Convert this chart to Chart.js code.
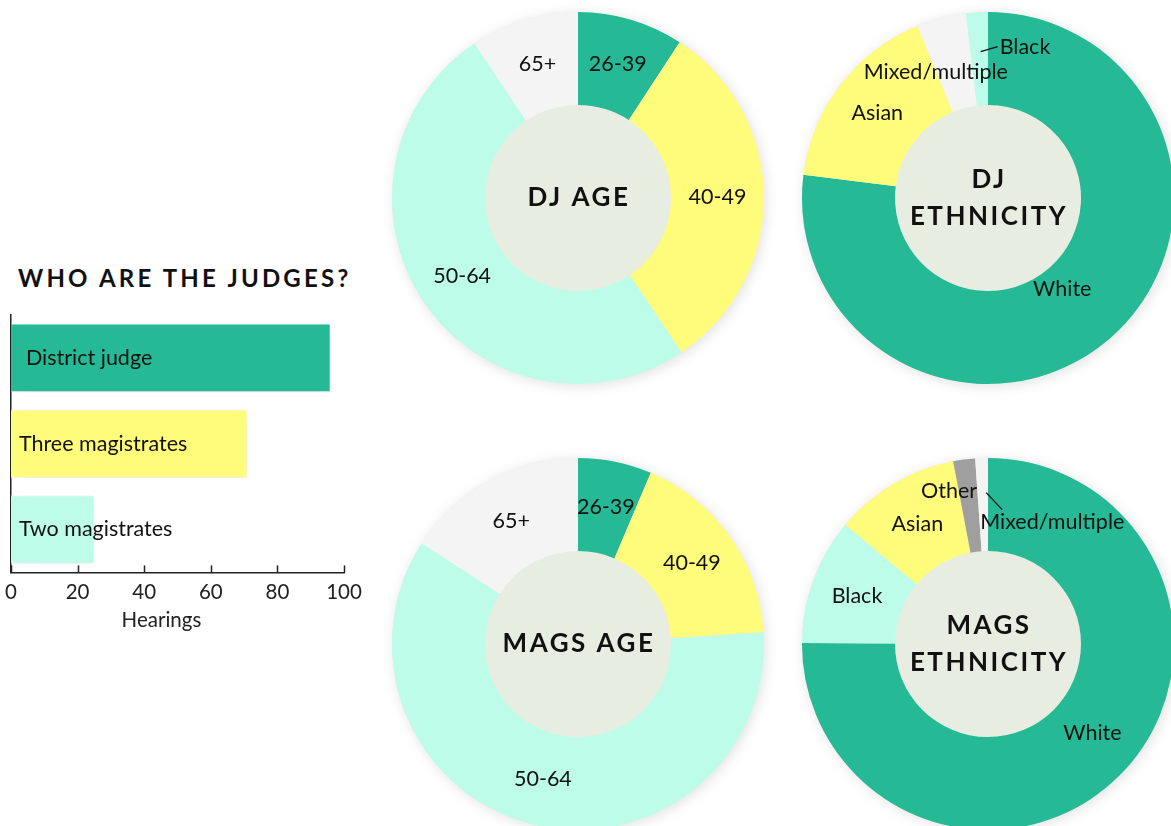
<!DOCTYPE html>
<html>
<head>
<meta charset="utf-8">
<script src="https://cdn.jsdelivr.net/npm/chart.js@4.4.1/dist/chart.umd.min.js"></script>
<style>
  body { margin: 0; width: 1171px; height: 826px; overflow: hidden; background: #fff; position: relative; font-family: Lato, sans-serif; }
  canvas { position: absolute; }
  h2 { position: absolute; left: 18px; top: 266px; margin: 0; font: 700 24px/24px Lato, sans-serif; letter-spacing: 3.2px; color: #111; white-space: nowrap; }
</style>
</head>
<body>
<h2>WHO ARE THE JUDGES?</h2>
<canvas id="bars" width="380" height="340" style="left:-3px;top:300px"></canvas>
<canvas id="djAge" width="412" height="412" style="left:372px;top:-8px"></canvas>
<canvas id="djEth" width="412" height="412" style="left:782px;top:-8px"></canvas>
<canvas id="magsAge" width="412" height="412" style="left:372px;top:438px"></canvas>
<canvas id="magsEth" width="412" height="412" style="left:782px;top:438px"></canvas>
<script>
// hearings by bench type
const benchLabels = ["District judge", "Three magistrates", "Two magistrates"];
const hearings = [96, 71, 25];

const ageLabels = ["26-39", "40-49", "50-64", "65+"];
const djAge = [9.2, 31.4, 50, 9.4];
const magsAge = [6.4, 17.6, 60.1, 15.9];

const djEthLabels = ["White", "Asian", "Mixed/multiple", "Black"];
const djEth = [77, 16.8, 4.3, 1.9];
const magsEthLabels = ["White", "Black", "Asian", "Other", "Mixed/multiple"];
const magsEth = [75, 11, 10.9, 1.9, 1.1];

const GREEN = "#26b995", YELLOW = "#fffc7b", MINT = "#befcea", LIGHT = "#f4f4f4", GREY = "#9f9f9f";
const HOLE = "#e8ede1";

Chart.defaults.font.family = "Lato, sans-serif";
Chart.defaults.color = "#222";

const barDecor = {
	id: "barDecor",
	beforeDatasetsDraw(chart) {
		const ctx = chart.ctx;
		ctx.save();
		ctx.shadowColor = "rgba(0,0,0,0.13)";
		ctx.shadowBlur = 22;
		ctx.shadowOffsetX = 4;
		ctx.shadowOffsetY = 4;
	},
	afterDatasetsDraw(chart, args, opts) {
		const ctx = chart.ctx;
		ctx.restore();
		const x = chart.scales.x;
		const area = chart.chartArea;
		ctx.save();
		ctx.strokeStyle = "#222";
		ctx.lineWidth = 1.5;
		x.ticks.forEach((t, i) => {
			const px = Math.round(x.getPixelForTick(i)) + 0.5;
			ctx.beginPath();
			ctx.moveTo(px, area.bottom);
			ctx.lineTo(px, area.bottom - 7);
			ctx.stroke();
		});
		ctx.fillStyle = "#111";
		ctx.textBaseline = "middle";
		ctx.font = "400 21.5px Lato, sans-serif";
		chart.getDatasetMeta(0).data.forEach((bar, i) => {
			ctx.fillText(chart.data.labels[i], area.left + opts.inset[i], bar.y);
		});
		// axis title sits a little left of centre in the original
		ctx.textAlign = "center";
		ctx.font = "400 20.5px Lato, sans-serif";
		ctx.fillStyle = "#222";
		ctx.fillText(opts.xTitle, (area.left + area.right) / 2 - 16, area.bottom + 48);
		ctx.restore();
	},
};

const donutDecor = {
	id: "donutDecor",
	beforeDatasetsDraw(chart) {
		const arc = chart.getDatasetMeta(0).data[0];
		const ctx = chart.ctx;
		ctx.save();
		ctx.shadowColor = "rgba(0,0,0,0.12)";
		ctx.shadowBlur = 14;
		ctx.shadowOffsetX = 2;
		ctx.shadowOffsetY = 2;
		ctx.fillStyle = HOLE;
		ctx.beginPath();
		ctx.arc(arc.x, arc.y, arc.outerRadius, 0, Math.PI * 2);
		ctx.fill();
		ctx.restore();
	},
	afterDatasetsDraw(chart, args, opts) {
		const ctx = chart.ctx;
		const meta = chart.getDatasetMeta(0);
		const first = meta.data[0];
		ctx.save();
		ctx.fillStyle = "#111";
		ctx.strokeStyle = "#111";
		ctx.textBaseline = "middle";
		// centre heading
		ctx.textAlign = "center";
		ctx.font = "700 26px Lato, sans-serif";
		ctx.letterSpacing = "2.5px";
		opts.title.forEach((t, i) => {
			ctx.fillText(t, first.x + 1, first.y + (i - (opts.title.length - 1) / 2) * 37);
		});
		ctx.letterSpacing = "0px";
		// slice labels
		ctx.font = "400 21.5px Lato, sans-serif";
		const callouts = opts.callouts || {};
		meta.data.forEach((el, i) => {
			const label = chart.data.labels[i];
			const p = el.getCenterPoint();
			const c = callouts[label] || {};
			if (c.line) {
				ctx.lineWidth = 1.3;
				ctx.beginPath();
				ctx.moveTo(p.x + c.line[0], p.y + c.line[1]);
				ctx.lineTo(p.x + c.line[2], p.y + c.line[3]);
				ctx.stroke();
			}
			ctx.textAlign = c.align || "center";
			ctx.fillText(label, p.x + (c.dx || 0), p.y + (c.dy || 0));
		});
		ctx.restore();
	},
};

new Chart(document.getElementById("bars"), {
	type: "bar",
	data: {
		labels: benchLabels,
		datasets: [
			{
				data: hearings,
				backgroundColor: [GREEN, YELLOW, MINT],
				borderColor: "rgba(255,255,255,0.55)",
				borderWidth: 1,
				barPercentage: 0.8,
				categoryPercentage: 1,
			},
		],
	},
	options: {
		indexAxis: "y",
		responsive: false,
		animation: false,
		events: [],
		layout: { padding: { left: 8, right: 33, top: 15, bottom: 27 } },
		plugins: {
			legend: { display: false },
			tooltip: { enabled: false },
			barDecor: { inset: [15, 8, 8], xTitle: "Hearings" },
		},
		scales: {
			x: {
				min: 0,
				max: 100,
				z: 1,
				grid: { display: false, drawTicks: false },
				border: { display: true, color: "#222", width: 1.5 },
				ticks: { stepSize: 20, padding: 8, font: { size: 20.5 }, color: "#222" },
			},
			y: {
				z: 1,
				grid: { display: false, drawTicks: false },
				border: { display: true, color: "#222", width: 1.5 },
				ticks: { display: false },
			},
		},
	},
	plugins: [barDecor],
});

function donut(id, labels, values, colors, title, callouts) {
	return new Chart(document.getElementById(id), {
		type: "doughnut",
		data: {
			labels: labels,
			datasets: [{ data: values, backgroundColor: colors, borderWidth: 0 }],
		},
		options: {
			responsive: false,
			animation: false,
			events: [],
			cutout: "50%",
			layout: { padding: 20 },
			plugins: {
				legend: { display: false },
				tooltip: { enabled: false },
				donutDecor: { title: title, callouts: callouts },
			},
		},
		plugins: [donutDecor],
	});
}

donut("djAge", ageLabels, djAge, [GREEN, YELLOW, MINT, LIGHT], ["DJ AGE"], {});
donut("djEth", djEthLabels, djEth, [GREEN, YELLOW, LIGHT, MINT], ["DJ", "ETHNICITY"], {
	"White": { dx: -18, dy: -14 },
	"Mixed/multiple": { dx: -17, dy: 9 },
	"Black": { dx: 20, dy: -12, align: "left", line: [1, -7, 18, -12] },
});
donut("magsAge", ageLabels, magsAge, [GREEN, YELLOW, MINT, LIGHT], ["MAGS AGE"], {});
donut("magsEth", magsEthLabels, magsEth, [GREEN, MINT, YELLOW, GREY, LIGHT], ["MAGS", "ETHNICITY"], {
	"White": { dx: 6, dy: -10 },
	"Other": { dx: -21, dy: -15 },
	"Mixed/multiple": { dx: -3, dy: 17, align: "left", line: [3, -12, 19, 5] },
});
</script>
</body>
</html>
